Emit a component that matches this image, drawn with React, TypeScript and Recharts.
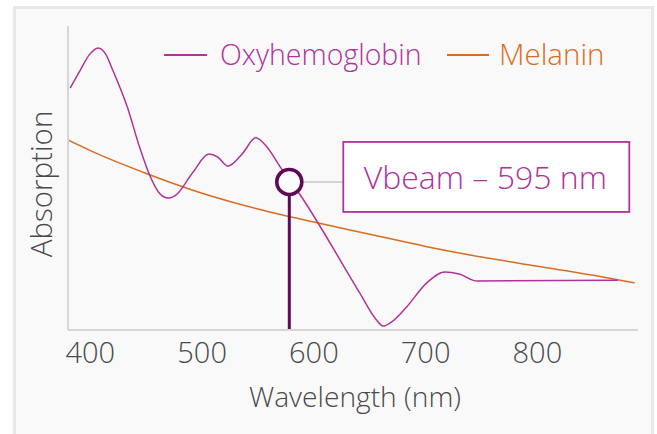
import React from 'react';
import { LineChart, Line, XAxis, YAxis, ReferenceLine, ReferenceDot, Legend } from 'recharts';

const oxyWavelengths = [382, 391, 399, 407, 414, 420, 433, 444, 453, 462, 467, 471, 476, 492, 506, 514, 523, 536, 548, 558, 570, 586, 641, 655, 662, 669, 683, 701, 717, 730, 746, 872];
const oxyValues = [79.6, 85.5, 90.5, 92.8, 90.6, 85.5, 73.4, 60.2, 51.0, 44.9, 43.6, 43.4, 44.2, 52.0, 57.9, 56.9, 53.9, 58.0, 63.2, 60.2, 53.6, 45.4, 12.2, 3.8, 1.3, 2.5, 7.6, 15.5, 19.1, 18.4, 16.1, 16.4];

const melaninWavelengths = [380, 400, 450, 500, 550, 600, 650, 700, 750, 800, 850, 887];
const melaninValues = [62.5, 59, 51.5, 45, 39.8, 35.5, 31.5, 27.5, 24, 21, 18, 15.5];

const xTicks = [400, 500, 600, 700, 800];
const seriesNames = ['Oxyhemoglobin', 'Melanin'];
const markerWavelength = 578;
const markerValue = 48.7;
const markerLabel = 'Vbeam \u2013 595 nm';

const oxyData = oxyWavelengths.map((x, i) => ({ x, v: oxyValues[i] }));
const melaninData = melaninWavelengths.map((x, i) => ({ x, v: melaninValues[i] }));

const OXY = '#b0329c';
const MEL = '#d86d22';
const MARK = '#5e0a55';
const TEXT = '#4a4a4a';
const FONT = '"Open Sans", Roboto, "Helvetica Neue", Arial, sans-serif';
const W = 300;

const LegendContent = () => (
  <div style={{ position: 'relative', width: 657, height: 40, fontFamily: FONT, fontWeight: W }}>
    <div style={{ position: 'absolute', left: 164, top: 19, width: 43, height: 1.5, background: OXY }} />
    <div style={{ position: 'absolute', left: 220, top: 0, fontSize: 28.5, lineHeight: '38px', color: OXY, whiteSpace: 'nowrap' }}>{seriesNames[0]}</div>
    <div style={{ position: 'absolute', left: 447, top: 19, width: 42, height: 1.5, background: MEL }} />
    <div style={{ position: 'absolute', left: 499, top: 0, fontSize: 29.5, lineHeight: '38px', color: MEL, whiteSpace: 'nowrap' }}>{seriesNames[1]}</div>
  </div>
);

const MarkerShape = (props: any) => {
  const { cx, cy } = props;
  const bx = cx + 54;
  const by = cy - 40;
  return (
    <g>
      <line x1={cx + 14} y1={cy} x2={bx} y2={cy} stroke="#d4d4d4" strokeWidth={2} />
      <rect x={bx} y={by} width={286} height={70} fill="#ffffff" stroke={OXY} strokeWidth={1.8} />
      <text x={bx + 142} y={cy + 7} textAnchor="middle" fontSize={32} fontWeight={W} fontFamily={FONT} fill={OXY}>
        {markerLabel}
      </text>
      <circle cx={cx} cy={cy} r={12.5} fill="#ffffff" stroke={MARK} strokeWidth={3.6} />
    </g>
  );
};

const YLabel = (props: any) => {
  const vb = props.viewBox || {};
  const x = vb.x + 44;
  const y = vb.y + vb.height / 2 + 6;
  return (
    <text x={x} y={y} transform={`rotate(-90, ${x}, ${y})`} textAnchor="middle" fontSize={29.5} fontWeight={W} fontFamily={FONT} fill={TEXT}>
      Absorption
    </text>
  );
};

const XLabel = (props: any) => {
  const vb = props.viewBox || {};
  return (
    <text x={vb.x + vb.width / 2 + 2} y={vb.y + 77} textAnchor="middle" fontSize={28.2} fontWeight={W} fontFamily={FONT} fill={TEXT}>
      Wavelength (nm)
    </text>
  );
};

export default function App() {
  return (
    <div style={{ position: 'absolute', left: 0, top: 0, width: 657, height: 434, background: '#ffffff', overflow: 'hidden' }}>
      <div style={{ position: 'absolute', left: 13, top: 6, width: 635, height: 460, background: '#f9f9f9', border: '3px solid #e8e8e8' }} />
      <div style={{ position: 'absolute', left: 0, top: 0 }}>
        <LineChart width={657} height={434} margin={{ top: 26, right: 19, bottom: 0, left: 8 }}>
          <XAxis
            dataKey="x"
            type="number"
            domain={[380, 890]}
            ticks={xTicks}
            allowDataOverflow
            height={104}
            axisLine={{ stroke: '#d6d6d6', strokeWidth: 2 }}
            tickLine={false}
            tickMargin={6}
            tick={{ fontSize: 29, fill: TEXT, fontFamily: FONT, fontWeight: W }}
            label={<XLabel />}
          />
          <YAxis
            type="number"
            domain={[0, 100]}
            width={60}
            tick={false}
            tickLine={false}
            axisLine={{ stroke: '#d6d6d6', strokeWidth: 2 }}
            label={<YLabel />}
          />
          <Legend
            layout="horizontal"
            verticalAlign="middle"
            align="center"
            wrapperStyle={{ position: 'absolute', left: 0, top: 35, width: 657 }}
            content={<LegendContent />}
          />
          <Line data={melaninData} dataKey="v" name={seriesNames[1]} type="monotone" stroke={MEL} strokeWidth={1.5} dot={false} isAnimationActive={false} />
          <Line data={oxyData} dataKey="v" name={seriesNames[0]} type="monotone" stroke={OXY} strokeWidth={1.5} dot={false} isAnimationActive={false} />
          <ReferenceLine
            segment={[{ x: markerWavelength, y: 0 }, { x: markerWavelength, y: markerValue }]}
            stroke={MARK}
            strokeWidth={3}
          />
          <ReferenceDot x={markerWavelength} y={markerValue} r={12.5} shape={<MarkerShape />} />
        </LineChart>
      </div>
    </div>
  );
}
